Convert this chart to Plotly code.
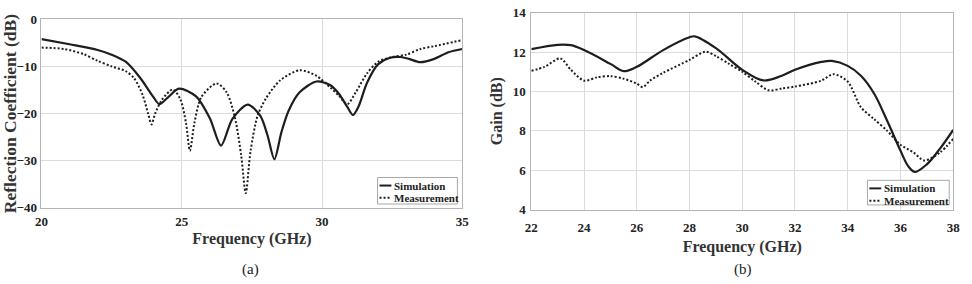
import plotly.graph_objects as go

# ---- (a) Reflection coefficient ----
sim_a_f = [20, 21, 22, 22.5, 23, 23.5, 24, 24.2, 24.5, 24.9, 25.5, 26, 26.4, 26.8, 27.35, 27.8, 28.05, 28.3, 28.55, 28.8, 29.2, 29.8, 30.3, 30.6, 30.9, 31.1, 31.3, 31.6, 32, 32.4, 32.8, 33.1, 33.5, 34, 34.5, 35]
sim_a_v = [-4.2, -5.3, -6.5, -7.5, -9.0, -12.3, -16.6, -18.0, -16.6, -14.7, -16.3, -21.0, -26.8, -21.2, -18.1, -20.5, -24.5, -29.7, -24.0, -19.5, -15.5, -13.2, -14.0, -15.8, -18.6, -20.3, -18.5, -13.5, -9.5, -8.2, -8.0, -8.4, -9.1, -8.4, -7.0, -6.3]

meas_a_f = [20, 20.8, 21.5, 22, 22.5, 23, 23.3, 23.6, 23.8, 23.92, 24.05, 24.3, 24.68, 24.95, 25.15, 25.29, 25.45, 25.7, 26.24, 26.6, 26.9, 27.12, 27.28, 27.45, 27.7, 28.0, 28.5, 29.2, 29.8, 30.3, 30.6, 30.9, 31.2, 31.6, 32.0, 32.5, 33.0, 33.5, 34.0, 35]
meas_a_v = [-6.0, -6.3, -7.4, -8.8, -10.0, -11.0, -12.5, -16.0, -20.0, -22.3, -20.0, -17.0, -14.9, -17.0, -22.0, -27.9, -22.0, -16.5, -13.6, -15.5, -21.0, -29.0, -36.9, -28.0, -20.5, -16.8, -13.0, -10.8, -12.0, -14.5, -16.2, -18.0, -15.5, -11.5, -9.0, -8.0, -7.5, -6.3, -5.7, -4.4]

# ---- (b) Gain ----
sim_b_f = [22, 23, 23.5, 24, 25, 25.5, 26, 27, 28, 28.2, 29, 30, 30.8, 31.5, 32, 33, 33.4, 34, 34.5, 35, 35.5, 36, 36.3, 36.55, 37, 37.5, 38]
sim_b_v = [12.15, 12.37, 12.35, 12.1, 11.4, 11.03, 11.25, 12.1, 12.75, 12.8, 12.2, 11.1, 10.56, 10.8, 11.1, 11.5, 11.55, 11.3, 10.8, 9.9, 8.5, 7.0, 6.2, 5.92, 6.3, 7.1, 8.05]

meas_b_f = [22, 22.5, 23.1, 23.5, 24, 24.5, 25, 25.5, 26, 26.23, 26.5, 27, 28, 28.6, 29, 29.5, 30, 30.5, 31, 31.5, 32, 33, 33.45, 34, 34.5, 35, 35.5, 36, 36.5, 36.9, 37.5, 38]
meas_b_v = [11.05, 11.25, 11.68, 11.1, 10.55, 10.72, 10.78, 10.65, 10.4, 10.22, 10.55, 10.95, 11.6, 12.02, 11.8, 11.4, 11.0, 10.5, 10.06, 10.15, 10.25, 10.55, 10.88, 10.5, 9.2, 8.6, 8.0, 7.3, 6.9, 6.5, 6.9, 7.6]

x_ticks_a = [20, 25, 30, 35]
y_ticks_a = [0, -10, -20, -30, -40]
x_ticks_b = [22, 24, 26, 28, 30, 32, 34, 36, 38]
y_ticks_b = [4, 6, 8, 10, 12, 14]
series_names = ["Simulation", "Measurement"]

FONT = "Liberation Serif"
LINE = "#1e1e1e"
DOT = "2px,2px"
W, H = 972, 284


def px(x):
    return x / W


def py(y):
    return 1 - y / H


fig = go.Figure()
fig.add_trace(go.Scatter(x=sim_a_f, y=sim_a_v, mode="lines", name=series_names[0],
                         line=dict(color=LINE, width=2.2, shape="spline", smoothing=0.8),
                         xaxis="x", yaxis="y"))
fig.add_trace(go.Scatter(x=meas_a_f, y=meas_a_v, mode="lines", name=series_names[1],
                         line=dict(color=LINE, width=2, dash=DOT, shape="spline", smoothing=0.8),
                         xaxis="x", yaxis="y"))
fig.add_trace(go.Scatter(x=sim_b_f, y=sim_b_v, mode="lines", name=series_names[0],
                         line=dict(color=LINE, width=2.2, shape="spline", smoothing=1.0),
                         xaxis="x2", yaxis="y2"))
fig.add_trace(go.Scatter(x=meas_b_f, y=meas_b_v, mode="lines", name=series_names[1],
                         line=dict(color=LINE, width=2, dash=DOT, shape="spline", smoothing=0.8),
                         xaxis="x2", yaxis="y2"))

tickfont = dict(family=FONT, size=13, color="#222", weight="bold")
titlefont = dict(family=FONT, size=16, color="#333", weight="bold")
axcommon = dict(showgrid=True, gridcolor="#dcdcdc", gridwidth=1, showline=True,
                linecolor="#b4b4b4", linewidth=1, mirror=True, ticks="", zeroline=False,
                tickfont=tickfont)

# compact MATLAB-style legends (box, line samples, labels)
shapes = []
annotations = []
leg_font = dict(family=FONT, size=11, color="#222", weight="bold")
for (x0, x1, y0, y1) in [(376, 457, 180, 208), (873, 956, 183, 209)]:
    shapes.append(dict(type="rect", xref="paper", yref="paper",
                       x0=px(x0), x1=px(x1), y0=py(y1), y1=py(y0),
                       line=dict(color="#a8a8a8", width=1), fillcolor="white", layer="above"))
    rows = [y0 + 8.5, y0 + 21.5]
    for i, (ry, dash) in enumerate(zip(rows, ["solid", DOT])):
        shapes.append(dict(type="line", xref="paper", yref="paper",
                           x0=px(x0 + 2), x1=px(x0 + 14), y0=py(ry), y1=py(ry),
                           line=dict(color=LINE, width=2, dash=dash), layer="above"))
        annotations.append(dict(text=series_names[i], x=px(x0 + 15), y=py(ry),
                                xref="paper", yref="paper", xanchor="left", yanchor="middle",
                                showarrow=False, font=leg_font))

annotations += [
    dict(text="(a)", x=px(247), y=py(277), xref="paper", yref="paper",
         xanchor="center", yanchor="middle",
         showarrow=False, font=dict(family=FONT, size=15, color="#222")),
    dict(text="(b)", x=px(747), y=py(277), xref="paper", yref="paper",
         xanchor="center", yanchor="middle",
         showarrow=False, font=dict(family=FONT, size=15, color="#222")),
]

fig.update_layout(
    width=W, height=H,
    margin=dict(l=0, r=0, t=0, b=0),
    paper_bgcolor="white", plot_bgcolor="white",
    showlegend=False,
    xaxis=dict(domain=[px(35), px(462)], range=[20, 35], tickvals=x_ticks_a,
               title=dict(text="Frequency (GHz)", font=titlefont, standoff=4),
               anchor="y", ticklabelstandoff=2, **axcommon),
    yaxis=dict(domain=[py(212), py(13)], range=[-40, 0], tickvals=y_ticks_a,
               title=dict(text="Reflection Coefficient (dB)",
                          font=dict(family=FONT, size=17.5, color="#333", weight="bold"), standoff=1),
               anchor="x", ticklabelstandoff=1, **axcommon),
    xaxis2=dict(domain=[px(532), px(960)], range=[22, 38], tickvals=x_ticks_b,
                title=dict(text="Frequency (GHz)", font=titlefont, standoff=6),
                anchor="y2", ticklabelstandoff=6, **axcommon),
    yaxis2=dict(domain=[py(214), py(6)], range=[4, 14], tickvals=y_ticks_b,
                title=dict(text="Gain (dB)", font=titlefont, standoff=6),
                anchor="x2", ticklabelstandoff=2, **axcommon),
    shapes=shapes,
    annotations=annotations,
)

fig.write_html("out.html")
